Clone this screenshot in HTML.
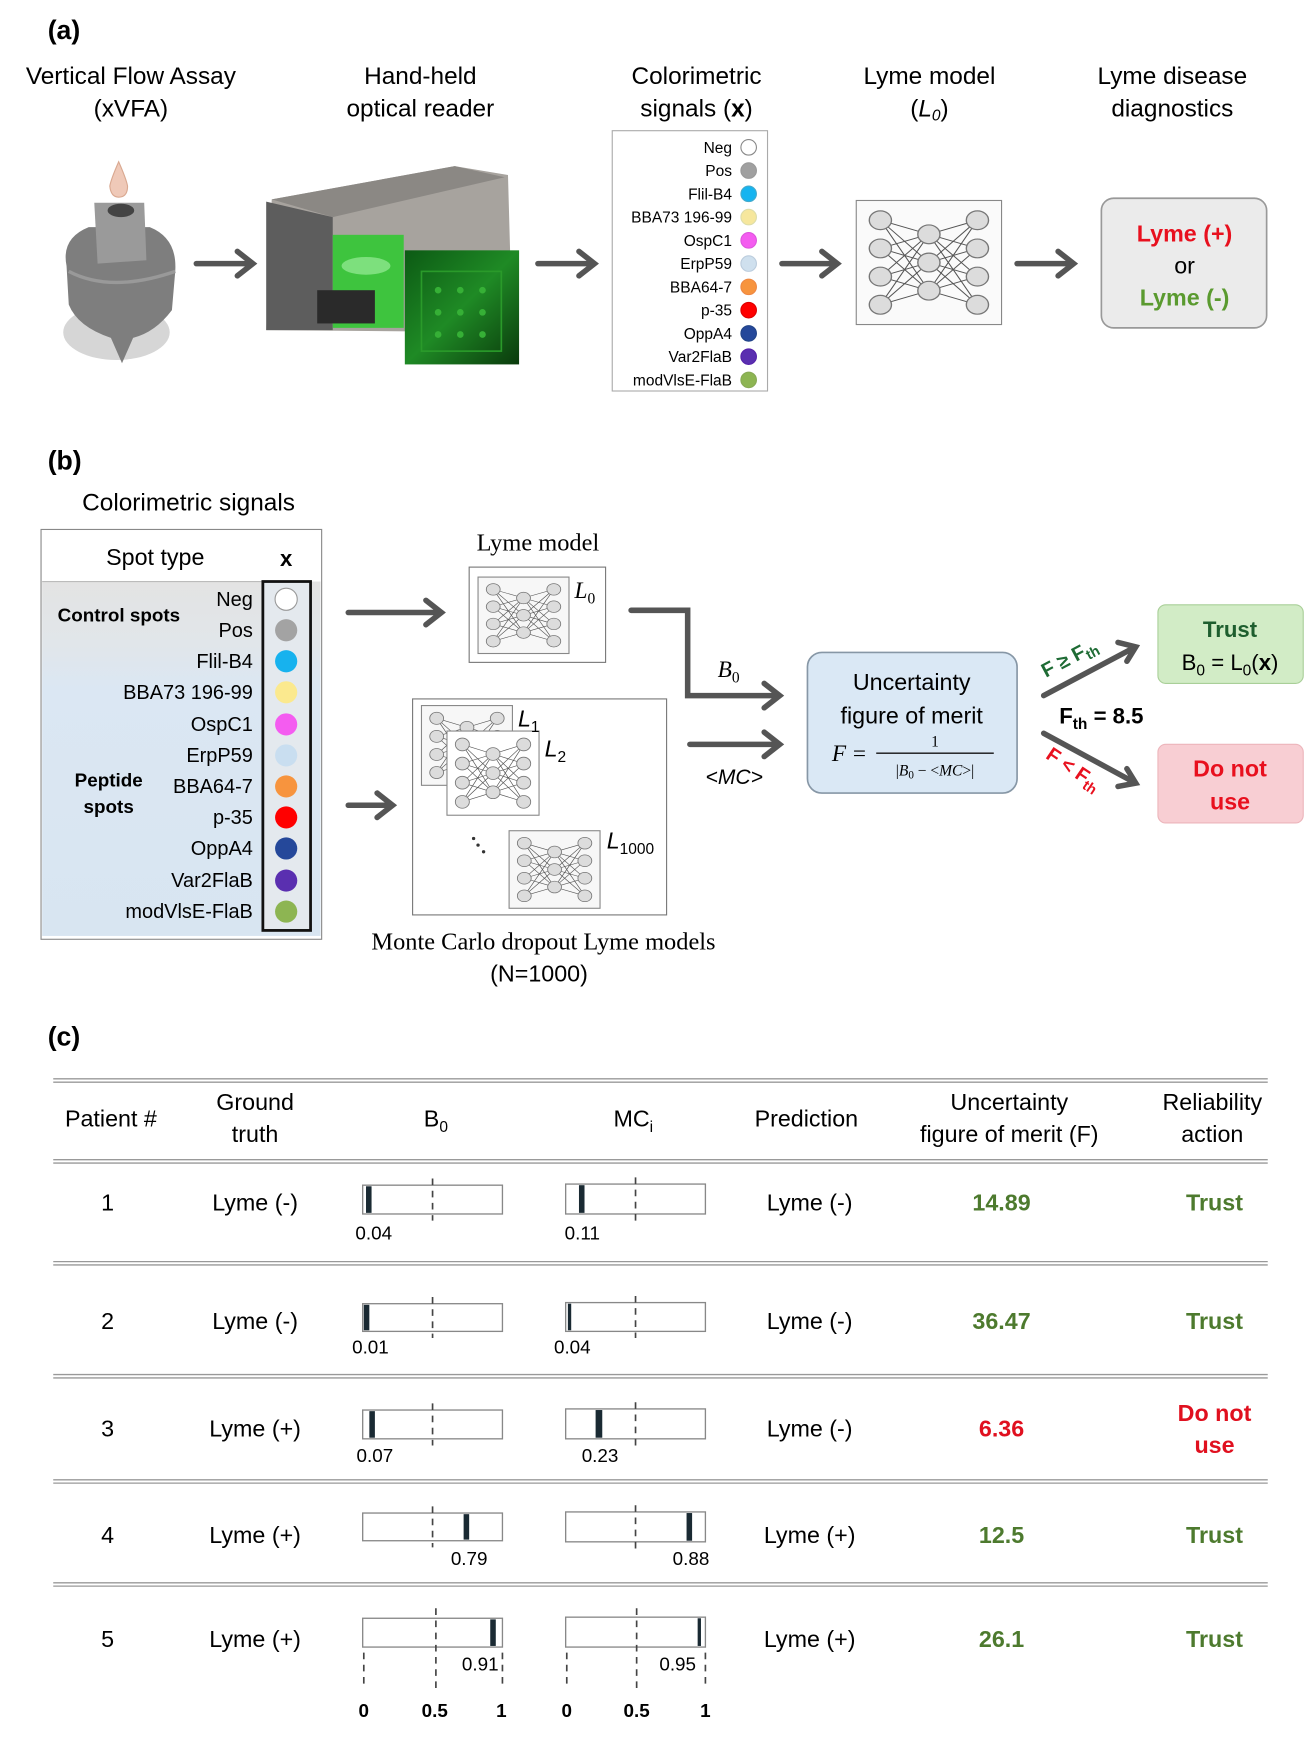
<!DOCTYPE html>
<html><head><meta charset="utf-8">
<style>
html,body{margin:0;padding:0;background:#fff;}
svg{display:block;}
text{font-family:"Liberation Sans",sans-serif;}
.s{font-family:"Liberation Serif",serif;}
</style></head>
<body>
<svg width="1311" height="1739" viewBox="0 0 1182 1570" preserveAspectRatio="none" xmlns="http://www.w3.org/2000/svg">
<defs>
<symbol id="nn" viewBox="0 0 100 100" preserveAspectRatio="none">
<g stroke="#555" stroke-width="0.8">
<path d="M15 14L50 26M15 14L50 50M15 14L50 74M15 38L50 26M15 38L50 50M15 38L50 74M15 62L50 26M15 62L50 50M15 62L50 74M15 86L50 26M15 86L50 50M15 86L50 74"/>
<path d="M85 14L50 26M85 14L50 50M85 14L50 74M85 38L50 26M85 38L50 50M85 38L50 74M85 62L50 26M85 62L50 50M85 62L50 74M85 86L50 26M85 86L50 50M85 86L50 74"/>
</g>
<g fill="#dcdcdc" stroke="#777" stroke-width="1">
<circle cx="15" cy="14" r="8"/><circle cx="15" cy="38" r="8"/><circle cx="15" cy="62" r="8"/><circle cx="15" cy="86" r="8"/>
<circle cx="50" cy="26" r="8"/><circle cx="50" cy="50" r="8"/><circle cx="50" cy="74" r="8"/>
<circle cx="85" cy="14" r="8"/><circle cx="85" cy="38" r="8"/><circle cx="85" cy="62" r="8"/><circle cx="85" cy="86" r="8"/>
</g>
</symbol>
<linearGradient id="tb" x1="0" y1="0" x2="0" y2="1">
<stop offset="0" stop-color="#e3e3e3"/><stop offset="0.18" stop-color="#e1e6ea"/><stop offset="0.3" stop-color="#dbe7f3"/><stop offset="1" stop-color="#d8e5f1"/>
</linearGradient>
<linearGradient id="gr" x1="0" y1="0" x2="1" y2="1">
<stop offset="0" stop-color="#0c5a14"/><stop offset="0.5" stop-color="#1f8a25"/><stop offset="1" stop-color="#0a3a0c"/>
</linearGradient>
</defs>

<!-- ===== (a) ===== -->
<text x="43" y="35" font-size="24" font-weight="bold">(a)</text>
<g font-size="22" text-anchor="middle">
<text x="118" y="76">Vertical Flow Assay</text><text x="118" y="105">(xVFA)</text>
<text x="379" y="76">Hand-held</text><text x="379" y="105">optical reader</text>
<text x="628" y="76">Colorimetric</text><text x="628" y="105">signals (<tspan font-weight="bold">x</tspan>)</text>
<text x="838" y="76">Lyme model</text><text x="838" y="105">(<tspan font-style="italic">L</tspan><tspan font-size="14" dy="4" font-style="italic">0</tspan><tspan dy="-4">)</tspan></text>
<text x="1057" y="76">Lyme disease</text><text x="1057" y="105">diagnostics</text>
</g>

<!-- VFA device -->
<ellipse cx="105" cy="300" rx="48" ry="25" fill="#d6d6d6"/>
<path d="M107 146 Q100 162 99 168 Q100 178 107 178 Q115 178 115 168 Q114 162 107 146Z" fill="#efc9b8" stroke="#d9a890"/>
<path d="M60 240 Q55 215 80 205 L135 205 Q160 215 158 245 L155 280 Q140 300 120 305 L110 328 L100 305 Q70 295 62 275Z" fill="#7e7e7e"/>
<path d="M85 183 L130 183 L132 235 L88 238Z" fill="#9a9a9a"/>
<ellipse cx="109" cy="190" rx="12" ry="6" fill="#444"/>
<path d="M62 245 Q100 265 158 245" stroke="#999" stroke-width="3" fill="none"/>

<!-- reader -->
<path d="M245 180 L410 150 L458 158 L460 230 L468 228 L465 300 L240 298Z" fill="#a7a39e"/>
<path d="M245 180 L410 150 L455 160 L300 196Z" fill="#8b8884"/>
<path d="M240 182 L300 196 L300 298 L240 298Z" fill="#5d5d5d"/>
<rect x="300" y="212" width="64" height="84" fill="#3ec43e"/>
<ellipse cx="330" cy="240" rx="22" ry="8" fill="#7de07d"/>
<rect x="286" y="262" width="52" height="30" fill="#2a2a2a"/>
<rect x="365" y="226" width="103" height="103" fill="url(#gr)"/>
<g fill="#36b036"><circle cx="395" cy="262" r="3"/><circle cx="415" cy="262" r="3"/><circle cx="435" cy="262" r="3"/><circle cx="395" cy="282" r="3"/><circle cx="415" cy="282" r="3"/><circle cx="435" cy="282" r="3"/><circle cx="395" cy="302" r="3"/><circle cx="415" cy="302" r="3"/><circle cx="435" cy="302" r="3"/></g>
<rect x="380" y="245" width="72" height="72" fill="none" stroke="#2a9a2a" stroke-width="1.5"/>

<!-- arrows (a) -->
<g stroke="#555" stroke-width="5" fill="none" stroke-linecap="round">
<path d="M177 238H226M214 227L228 238L214 249"/>
<path d="M485 238H534M522 227L536 238L522 249"/>
<path d="M705 238H753M741 227L755 238L741 249"/>
<path d="M917 238H966M954 227L968 238L954 249"/>
</g>

<!-- legend -->
<rect x="552" y="118" width="140" height="235" fill="#fff" stroke="#aaa"/>
<g font-size="14" text-anchor="end">
<text x="660" y="138">Neg</text><text x="660" y="159">Pos</text><text x="660" y="180">Flil-B4</text><text x="660" y="201">BBA73 196-99</text><text x="660" y="222">OspC1</text><text x="660" y="243">ErpP59</text><text x="660" y="264">BBA64-7</text><text x="660" y="285">p-35</text><text x="660" y="306">OppA4</text><text x="660" y="327">Var2FlaB</text><text x="660" y="348">modVlsE-FlaB</text>
</g>
<g stroke-width="1">
<circle cx="675" cy="133" r="7" fill="#fff" stroke="#888"/>
<circle cx="675" cy="154" r="7" fill="#a0a0a0" stroke="#999"/>
<circle cx="675" cy="175" r="7" fill="#16b4f0" stroke="#4ac"/>
<circle cx="675" cy="196" r="7" fill="#f6e79d" stroke="#dda"/>
<circle cx="675" cy="217" r="7" fill="#f45cf0" stroke="#d5d"/>
<circle cx="675" cy="238" r="7" fill="#cfe0ee" stroke="#bcd"/>
<circle cx="675" cy="259" r="7" fill="#f7943e" stroke="#e84"/>
<circle cx="675" cy="280" r="7" fill="#f00" stroke="#d00"/>
<circle cx="675" cy="301" r="7" fill="#25489a" stroke="#248"/>
<circle cx="675" cy="322" r="7" fill="#5a2fb0" stroke="#52a"/>
<circle cx="675" cy="343" r="7" fill="#8db552" stroke="#8a5"/>
</g>

<!-- NN (a) -->
<rect x="772" y="181" width="131" height="112" fill="#fafafa" stroke="#888"/>
<use href="#nn" x="775" y="184" width="125" height="106"/>

<!-- output box -->
<rect x="993" y="179" width="149" height="117" rx="11" fill="#ebebeb" stroke="#999" stroke-width="1.5"/>
<g font-size="21" text-anchor="middle">
<text x="1068" y="218" fill="#e8101e" font-weight="bold">Lyme (+)</text>
<text x="1068" y="247">or</text>
<text x="1068" y="276" fill="#5a9a2f" font-weight="bold">Lyme (-)</text>
</g>

<!-- ===== (b) ===== -->
<text x="43" y="424" font-size="24" font-weight="bold">(b)</text>
<text x="170" y="461" font-size="22" text-anchor="middle">Colorimetric signals</text>
<rect x="37" y="478" width="253" height="370" fill="#fff" stroke="#888"/>
<rect x="38" y="525" width="251" height="320" fill="url(#tb)"/>
<line x1="38" y1="525" x2="237" y2="525" stroke="#bbb"/>
<text x="140" y="510" font-size="21" text-anchor="middle">Spot type</text>
<text x="258" y="511" font-size="20" font-weight="bold" text-anchor="middle">x</text>
<rect x="237" y="525" width="43" height="315" fill="#e4e9ee" stroke="#111" stroke-width="2.5"/>
<text x="52" y="561" font-size="17" font-weight="bold">Control spots</text>
<text x="98" y="710" font-size="17" font-weight="bold" text-anchor="middle">Peptide</text>
<text x="98" y="734" font-size="17" font-weight="bold" text-anchor="middle">spots</text>
<g font-size="18" text-anchor="end">
<text x="228" y="547">Neg</text><text x="228" y="575">Pos</text><text x="228" y="603">Flil-B4</text><text x="228" y="631">BBA73 196-99</text><text x="228" y="660">OspC1</text><text x="228" y="688">ErpP59</text><text x="228" y="716">BBA64-7</text><text x="228" y="744">p-35</text><text x="228" y="772">OppA4</text><text x="228" y="801">Var2FlaB</text><text x="228" y="829">modVlsE-FlaB</text>
</g>
<circle cx="258" cy="541" r="10" fill="#fff" stroke="#999"/>
<circle cx="258" cy="569" r="10" fill="#a3a3a3"/>
<circle cx="258" cy="597" r="10" fill="#17b2ee"/>
<circle cx="258" cy="625" r="10" fill="#fbe98e"/>
<circle cx="258" cy="654" r="10" fill="#f45cf0"/>
<circle cx="258" cy="682" r="10" fill="#c9def0"/>
<circle cx="258" cy="710" r="10" fill="#f7943e"/>
<circle cx="258" cy="738" r="10" fill="#f00"/>
<circle cx="258" cy="766" r="10" fill="#25489a"/>
<circle cx="258" cy="795" r="10" fill="#5a2fb0"/>
<circle cx="258" cy="823" r="10" fill="#8db552"/>

<g stroke="#555" stroke-width="5" fill="none" stroke-linecap="round">
<path d="M314 553H396M384 542L398 553L384 564"/>
<path d="M314 727H352M340 716L354 727L340 738"/>
<path d="M569 551H620V628H701M689 617L703 628L689 639"/>
<path d="M622 672H701M689 661L703 672L689 683"/>
<path d="M941 628L1022 585M1008 580L1024 584L1016 597"/>
<path d="M941 662L1022 706M1016 694L1024 707L1008 710"/>
</g>

<text x="485" y="497" font-size="22" class="s" text-anchor="middle">Lyme model</text>
<rect x="423" y="512" width="123" height="86" fill="#fff" stroke="#777"/>
<rect x="431" y="521" width="82" height="69" fill="#f7f7f7" stroke="#888"/>
<use href="#nn" x="433" y="523" width="78" height="65"/>
<text x="518" y="540" font-size="21" class="s" font-style="italic">L<tspan font-size="14" dy="5" font-style="normal">0</tspan></text>

<rect x="372" y="631" width="229" height="195" fill="#fff" stroke="#777"/>
<rect x="380" y="637" width="82" height="72" fill="#f7f7f7" stroke="#888"/>
<use href="#nn" x="382" y="639" width="78" height="68"/>
<rect x="403" y="660" width="83" height="76" fill="#fff" stroke="#888"/>
<use href="#nn" x="405" y="662" width="79" height="72"/>
<rect x="459" y="750" width="82" height="70" fill="#f7f7f7" stroke="#888"/>
<use href="#nn" x="461" y="752" width="78" height="66"/>
<g class="s" font-size="21" font-style="italic">
<text x="467" y="656">L<tspan font-size="14" dy="5" font-style="normal">1</tspan></text>
<text x="491" y="683">L<tspan font-size="14" dy="5" font-style="normal">2</tspan></text>
<text x="547" y="766">L<tspan font-size="14" dy="5" font-style="normal">1000</tspan></text>
</g>
<circle cx="427" cy="757" r="1.5" fill="#333"/><circle cx="431" cy="763" r="1.5" fill="#333"/><circle cx="436" cy="769" r="1.5" fill="#333"/>
<text x="490" y="857" font-size="22" class="s" text-anchor="middle">Monte Carlo dropout Lyme models</text>
<text x="486" y="886" font-size="21" text-anchor="middle">(N=1000)</text>

<text x="647" y="611" font-size="21" class="s" font-style="italic">B<tspan font-size="14" dy="5" font-style="normal">0</tspan></text>
<text x="662" y="708" font-size="19" font-style="italic" text-anchor="middle">&lt;MC&gt;</text>

<rect x="728" y="589" width="189" height="127" rx="13" fill="#dae8f5" stroke="#8797a6" stroke-width="1.5"/>
<text x="822" y="623" font-size="21" text-anchor="middle">Uncertainty</text>
<text x="822" y="653" font-size="21" text-anchor="middle">figure of merit</text>
<text x="750" y="687" font-size="21" class="s" font-style="italic">F</text>
<text x="769" y="687" font-size="21" class="s">=</text>
<line x1="790" y1="680" x2="896" y2="680" stroke="#111" stroke-width="1.3"/>
<text x="843" y="674" font-size="14" class="s" text-anchor="middle">1</text>
<text x="843" y="700" font-size="14" class="s" text-anchor="middle">|<tspan font-style="italic">B</tspan><tspan font-size="10" dy="3">0</tspan><tspan dy="-3"> − &lt;</tspan><tspan font-style="italic">MC</tspan>&gt;|</text>

<text transform="translate(943,612) rotate(-28)" font-size="18" font-weight="bold" fill="#1e6b34">F ≥ F<tspan font-size="13" dy="4">th</tspan></text>
<text transform="translate(942,684) rotate(34)" font-size="18" font-weight="bold" fill="#e8101e">F &lt; F<tspan font-size="13" dy="4">th</tspan></text>
<text x="955" y="653" font-size="20" font-weight="bold">F<tspan font-size="14" dy="5">th</tspan><tspan dy="-5"> = 8.5</tspan></text>

<rect x="1044" y="546" width="131" height="71" rx="7" fill="#d2ecc6" stroke="#a9cf98"/>
<text x="1109" y="575" font-size="20" font-weight="bold" fill="#1e5e2e" text-anchor="middle">Trust</text>
<text x="1109" y="605" font-size="20" text-anchor="middle">B<tspan font-size="14" dy="5">0</tspan><tspan dy="-5"> = L</tspan><tspan font-size="14" dy="5">0</tspan><tspan dy="-5">(</tspan><tspan font-weight="bold">x</tspan>)</text>
<rect x="1044" y="672" width="131" height="71" rx="7" fill="#f8ced3" stroke="#ecb5bb"/>
<text x="1109" y="701" font-size="21" font-weight="bold" fill="#e8101e" text-anchor="middle">Do not</text>
<text x="1109" y="731" font-size="21" font-weight="bold" fill="#e8101e" text-anchor="middle">use</text>

<!-- ===== (c) ===== -->
<text x="43" y="944" font-size="24" font-weight="bold">(c)</text>
<g stroke="#999" stroke-width="1.2">
<line x1="48" y1="974" x2="1143" y2="974"/><line x1="48" y1="977" x2="1143" y2="977"/>
<line x1="48" y1="1047" x2="1143" y2="1047"/><line x1="48" y1="1050" x2="1143" y2="1050"/>
<line x1="48" y1="1139" x2="1143" y2="1139"/><line x1="48" y1="1142" x2="1143" y2="1142"/>
<line x1="48" y1="1241" x2="1143" y2="1241"/><line x1="48" y1="1244" x2="1143" y2="1244"/>
<line x1="48" y1="1336" x2="1143" y2="1336"/><line x1="48" y1="1339" x2="1143" y2="1339"/>
<line x1="48" y1="1429" x2="1143" y2="1429"/><line x1="48" y1="1432" x2="1143" y2="1432"/>
</g>
<g font-size="21" text-anchor="middle">
<text x="100" y="1017">Patient #</text>
<text x="230" y="1002">Ground</text><text x="230" y="1031">truth</text>
<text x="393" y="1017">B<tspan font-size="14" dy="5">0</tspan></text>
<text x="571" y="1017">MC<tspan font-size="14" dy="5">i</tspan></text>
<text x="727" y="1017">Prediction</text>
<text x="910" y="1002">Uncertainty</text><text x="910" y="1031">figure of merit (F)</text>
<text x="1093" y="1002">Reliability</text><text x="1093" y="1031">action</text>

<text x="97" y="1093">1</text><text x="230" y="1093">Lyme (-)</text><text x="730" y="1093">Lyme (-)</text>
<text x="97" y="1200">2</text><text x="230" y="1200">Lyme (-)</text><text x="730" y="1200">Lyme (-)</text>
<text x="97" y="1297">3</text><text x="230" y="1297">Lyme (+)</text><text x="730" y="1297">Lyme (-)</text>
<text x="97" y="1393">4</text><text x="230" y="1393">Lyme (+)</text><text x="730" y="1393">Lyme (+)</text>
<text x="97" y="1487">5</text><text x="230" y="1487">Lyme (+)</text><text x="730" y="1487">Lyme (+)</text>
</g>
<g font-size="21" font-weight="bold" text-anchor="middle" fill="#4d7a2e">
<text x="903" y="1093">14.89</text><text x="1095" y="1093">Trust</text>
<text x="903" y="1200">36.47</text><text x="1095" y="1200">Trust</text>
<text x="903" y="1297" fill="#e0101f">6.36</text><text x="1095" y="1283" fill="#e0101f">Do not</text><text x="1095" y="1312" fill="#e0101f">use</text>
<text x="903" y="1393">12.5</text><text x="1095" y="1393">Trust</text>
<text x="903" y="1487">26.1</text><text x="1095" y="1487">Trust</text>
</g>

<!-- bars -->
<g stroke="#888" stroke-width="1.2" fill="#fff">
<rect x="327" y="1070" width="126" height="26"/><rect x="510" y="1069" width="126" height="27"/>
<rect x="327" y="1177" width="126" height="25"/><rect x="510" y="1176" width="126" height="26"/>
<rect x="327" y="1273" width="126" height="26"/><rect x="510" y="1272" width="126" height="27"/>
<rect x="327" y="1366" width="126" height="25"/><rect x="510" y="1365" width="126" height="27"/>
<rect x="327" y="1461" width="126" height="26"/><rect x="510" y="1460" width="126" height="27"/>
</g>
<g stroke="#444" stroke-width="1.5" stroke-dasharray="6,5">
<line x1="390" y1="1064" x2="390" y2="1102"/><line x1="573" y1="1063" x2="573" y2="1102"/>
<line x1="390" y1="1171" x2="390" y2="1208"/><line x1="573" y1="1170" x2="573" y2="1208"/>
<line x1="390" y1="1267" x2="390" y2="1305"/><line x1="573" y1="1266" x2="573" y2="1305"/>
<line x1="390" y1="1360" x2="390" y2="1397"/><line x1="573" y1="1359" x2="573" y2="1398"/>
<line x1="393" y1="1452" x2="393" y2="1525"/><line x1="574" y1="1452" x2="574" y2="1525"/>
<line x1="328" y1="1492" x2="328" y2="1525"/><line x1="453" y1="1492" x2="453" y2="1525"/>
<line x1="511" y1="1492" x2="511" y2="1525"/><line x1="636" y1="1492" x2="636" y2="1525"/>
</g>
<g fill="#1a2a33">
<rect x="330" y="1071" width="5" height="24"/><rect x="522" y="1070" width="5" height="25"/>
<rect x="328" y="1178" width="5" height="23"/><rect x="512" y="1177" width="3" height="24"/>
<rect x="333" y="1274" width="5" height="24"/><rect x="537" y="1273" width="6" height="25"/>
<rect x="418" y="1367" width="5" height="23"/><rect x="619" y="1366" width="5" height="25"/>
<rect x="442" y="1462" width="5" height="24"/><rect x="629" y="1461" width="3" height="25"/>
</g>
<g font-size="17" text-anchor="middle">
<text x="337" y="1119">0.04</text><text x="525" y="1119">0.11</text>
<text x="334" y="1222">0.01</text><text x="516" y="1222">0.04</text>
<text x="338" y="1320">0.07</text><text x="541" y="1320">0.23</text>
<text x="423" y="1413">0.79</text><text x="623" y="1413">0.88</text>
<text x="433" y="1508">0.91</text><text x="611" y="1508">0.95</text>
</g>
<g font-size="17" font-weight="bold" text-anchor="middle">
<text x="328" y="1550">0</text><text x="392" y="1550">0.5</text><text x="452" y="1550">1</text>
<text x="511" y="1550">0</text><text x="574" y="1550">0.5</text><text x="636" y="1550">1</text>
</g>
</svg>
</body></html>
